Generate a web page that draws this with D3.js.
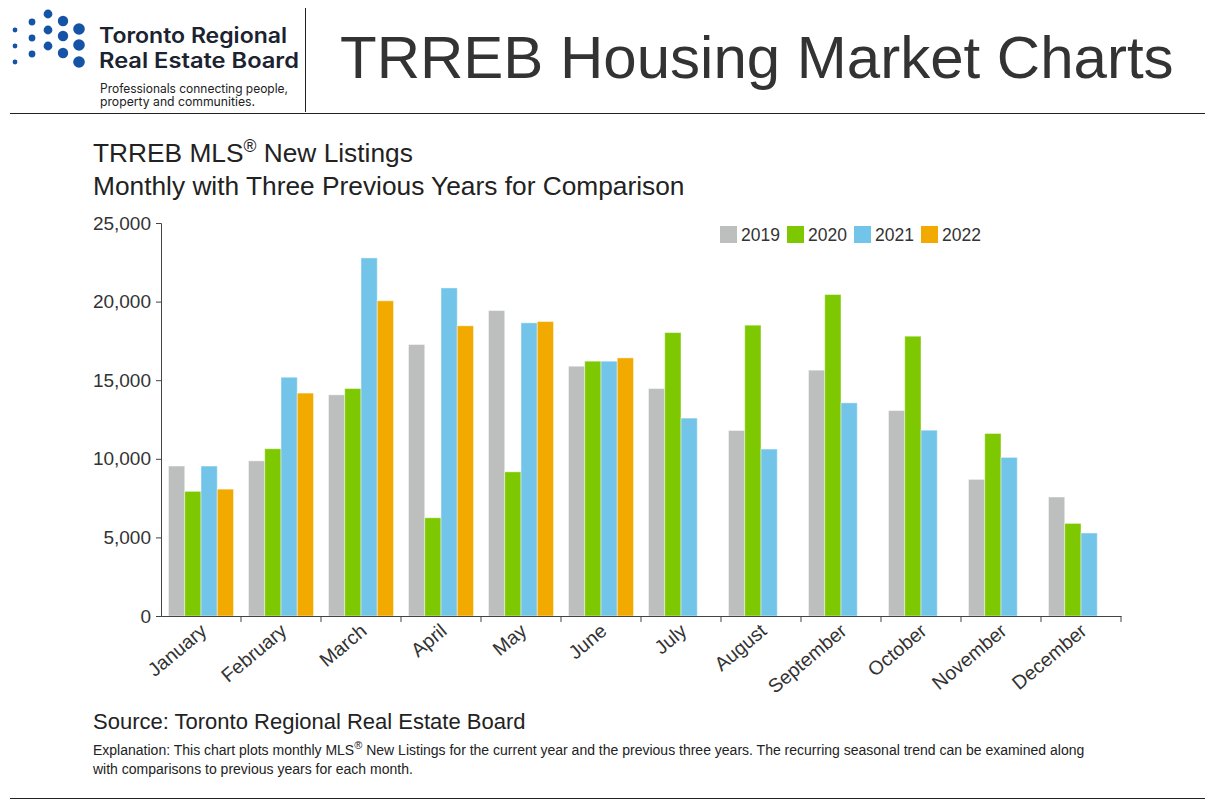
<!DOCTYPE html>
<html>
<head>
<meta charset="utf-8">
<script src="https://cdn.jsdelivr.net/npm/d3@7"></script>
<style>
  body { margin: 0; background: #fff; }
  svg { display: block; font-family: "Liberation Sans", Arial, sans-serif; }
</style>
</head>
<body>
<div id="chart"></div>
<script>
// chart data
const months = ['January', 'February', 'March', 'April', 'May', 'June', 'July',
    'August', 'September', 'October', 'November', 'December'];
const years = ['2019', '2020', '2021', '2022'];
const listings2019 = [9540, 9870, 14070, 17270, 19430, 15890, 14470, 11800, 15640, 13070, 8690, 7570];
const listings2020 = [7930, 10640, 14470, 6250, 9170, 16210, 18030, 18500, 20450, 17800, 11610, 5890];
const listings2021 = [9540, 15190, 22780, 20870, 18650, 16210, 12590, 10620, 13560, 11820, 10090, 5280];
const listings2022 = [8070, 14180, 20050, 18460, 18730, 16420, null, null, null, null, null, null];
const yTicks = [0, 5000, 10000, 15000, 20000, 25000];
const yearColors = ['#bdbebe', '#7dc800', '#72c5e8', '#f2a900'];

// logo dots: [x, y, r]
const logoDots = [
    [15, 30, 2.4], [15, 46, 2.4], [15, 62, 2.4],
    [32, 22, 3.4], [32, 38, 3.4], [32, 54, 3.4],
    [48, 14, 4.4], [48, 30, 4.4], [48, 46, 4.4],
    [63, 21, 5.2], [63, 36, 5.2], [63, 53, 5.2],
    [79, 29, 5.8], [79, 45, 5.8], [79, 62, 5.8]
];

const series = [listings2019, listings2020, listings2021, listings2022];
const rows = months.map((m, i) => ({
    month: m,
    values: years.map((y, j) => ({ year: y, value: series[j][i] }))
}));

const W = 1224, H = 800;
const margin = { left: 161, right: 100, top: 223, bottom: 184 };

const svg = d3.select('#chart').append('svg')
    .attr('width', W)
    .attr('height', H);

// ---- header ----
const logo = svg.append('g');
logo.selectAll('circle')
    .data(logoDots)
    .enter().append('circle')
    .attr('cx', d => d[0])
    .attr('cy', d => d[1])
    .attr('r', d => d[2])
    .attr('fill', '#1553a6');

const logoFont = 'Inter, "Noto Sans", sans-serif';
logo.append('text')
    .attr('x', 99).attr('y', 43)
    .attr('font-family', logoFont)
    .attr('font-weight', 600)
    .attr('font-size', 21)
    .attr('textLength', 188)
    .attr('lengthAdjust', 'spacingAndGlyphs')
    .attr('fill', '#1b2230')
    .text('Toronto Regional');
logo.append('text')
    .attr('x', 99).attr('y', 68)
    .attr('font-family', logoFont)
    .attr('font-weight', 600)
    .attr('font-size', 21)
    .attr('textLength', 200)
    .attr('lengthAdjust', 'spacingAndGlyphs')
    .attr('fill', '#1b2230')
    .text('Real Estate Board');
logo.append('text')
    .attr('x', 100).attr('y', 93)
    .attr('font-family', logoFont)
    .attr('font-size', 12.5)
    .attr('textLength', 188)
    .attr('lengthAdjust', 'spacingAndGlyphs')
    .attr('fill', '#222')
    .text('Professionals connecting people,');
logo.append('text')
    .attr('x', 100).attr('y', 106)
    .attr('font-family', logoFont)
    .attr('font-size', 12.5)
    .attr('textLength', 155)
    .attr('lengthAdjust', 'spacingAndGlyphs')
    .attr('fill', '#222')
    .text('property and communities.');

svg.append('line')
    .attr('x1', 305.5).attr('x2', 305.5)
    .attr('y1', 8).attr('y2', 112)
    .attr('stroke', '#222');

svg.append('text')
    .attr('x', 340).attr('y', 78)
    .attr('font-size', 60)
    .attr('fill', '#333')
    .text('TRREB Housing Market Charts');

svg.append('line')
    .attr('x1', 10).attr('x2', 1205)
    .attr('y1', 113.5).attr('y2', 113.5)
    .attr('stroke', '#222');

// ---- titles ----
const t1 = svg.append('text')
    .attr('x', 93).attr('y', 162)
    .attr('font-size', 26.3)
    .attr('fill', '#222');
t1.append('tspan').text('TRREB MLS');
t1.append('tspan').attr('font-size', 17.5).attr('dy', -10).text('®');
t1.append('tspan').attr('dy', 10).text(' New Listings');

svg.append('text')
    .attr('x', 93).attr('y', 195)
    .attr('font-size', 26.3)
    .attr('fill', '#222')
    .text('Monthly with Three Previous Years for Comparison');

// ---- scales ----
const x = d3.scaleBand()
    .domain(months)
    .range([margin.left, W - margin.right - 3])
    .paddingInner(0)
    .paddingOuter(0);

const xInner = d3.scaleBand()
    .domain(years)
    .range([0, x.bandwidth()])
    .paddingInner(0)
    .paddingOuter(0.46);

const y = d3.scaleLinear()
    .domain([0, 25000])
    .range([H - margin.bottom, margin.top]);

// ---- bars ----
const groups = svg.append('g')
    .selectAll('g')
    .data(rows)
    .enter().append('g')
    .attr('transform', d => `translate(${x(d.month)},0)`);

groups.selectAll('rect')
    .data(d => d.values.filter(v => v.value != null))
    .enter().append('rect')
    .attr('x', d => xInner(d.year))
    .attr('y', d => y(d.value))
    .attr('width', xInner.bandwidth())
    .attr('height', d => y(0) - y(d.value))
    .attr('fill', d => yearColors[years.indexOf(d.year)])
    .attr('stroke', 'rgba(255,255,255,0.45)')
    .attr('stroke-width', 1);

// ---- y axis ----
const yAxis = svg.append('g')
    .attr('transform', `translate(${margin.left},0)`)
    .call(d3.axisLeft(y).tickValues(yTicks).tickSize(5).tickPadding(5)
        .tickFormat(d3.format(',')));
yAxis.select('.domain').attr('stroke', '#444');
yAxis.selectAll('.tick line').attr('stroke', '#444');
yAxis.selectAll('.tick text')
    .attr('font-size', 19)
    .attr('fill', '#333')
    .attr('font-family', '"Liberation Sans", Arial, sans-serif');

// ---- x axis ----
const xAxis = svg.append('g')
    .attr('transform', `translate(0,${y(0)})`)
    .call(d3.axisBottom(x).tickSize(0).tickPadding(0));
xAxis.select('.domain').attr('stroke', '#444');
xAxis.selectAll('.tick text')
    .attr('font-size', 19.5)
    .attr('fill', '#333')
    .attr('font-family', '"Liberation Sans", Arial, sans-serif')
    .attr('text-anchor', 'end')
    .attr('dy', 0)
    .attr('transform', 'translate(7,17) rotate(-40)');

svg.append('g')
    .selectAll('line')
    .data(months)
    .enter().append('line')
    .attr('x1', d => x(d) + x.bandwidth())
    .attr('x2', d => x(d) + x.bandwidth())
    .attr('y1', y(0))
    .attr('y2', y(0) + 6)
    .attr('stroke', '#444');

// ---- legend ----
const legendX = [720, 787, 854, 921];
const legend = svg.append('g')
    .selectAll('g')
    .data(years)
    .enter().append('g')
    .attr('transform', (d, i) => `translate(${legendX[i]},226)`);
legend.append('rect')
    .attr('width', 17).attr('height', 17)
    .attr('fill', (d, i) => yearColors[i]);
legend.append('text')
    .attr('x', 21).attr('y', 15)
    .attr('font-size', 17.5)
    .attr('fill', '#333')
    .text(d => d);

// ---- footer ----
svg.append('text')
    .attr('x', 93).attr('y', 729)
    .attr('font-size', 22)
    .attr('fill', '#222')
    .text('Source: Toronto Regional Real Estate Board');

const e1 = svg.append('text')
    .attr('x', 93).attr('y', 755)
    .attr('font-size', 14)
    .attr('fill', '#222');
e1.append('tspan').text('Explanation: This chart plots monthly MLS');
e1.append('tspan').attr('font-size', 11).attr('dy', -6).text('®');
e1.append('tspan').attr('dy', 6)
    .text(' New Listings for the current year and the previous three years. The recurring seasonal trend can be examined along');

svg.append('text')
    .attr('x', 93).attr('y', 774)
    .attr('font-size', 14)
    .attr('fill', '#222')
    .text('with comparisons to previous years for each month.');

svg.append('line')
    .attr('x1', 10).attr('x2', 1205)
    .attr('y1', 798.5).attr('y2', 798.5)
    .attr('stroke', '#222');
</script>
</body>
</html>
